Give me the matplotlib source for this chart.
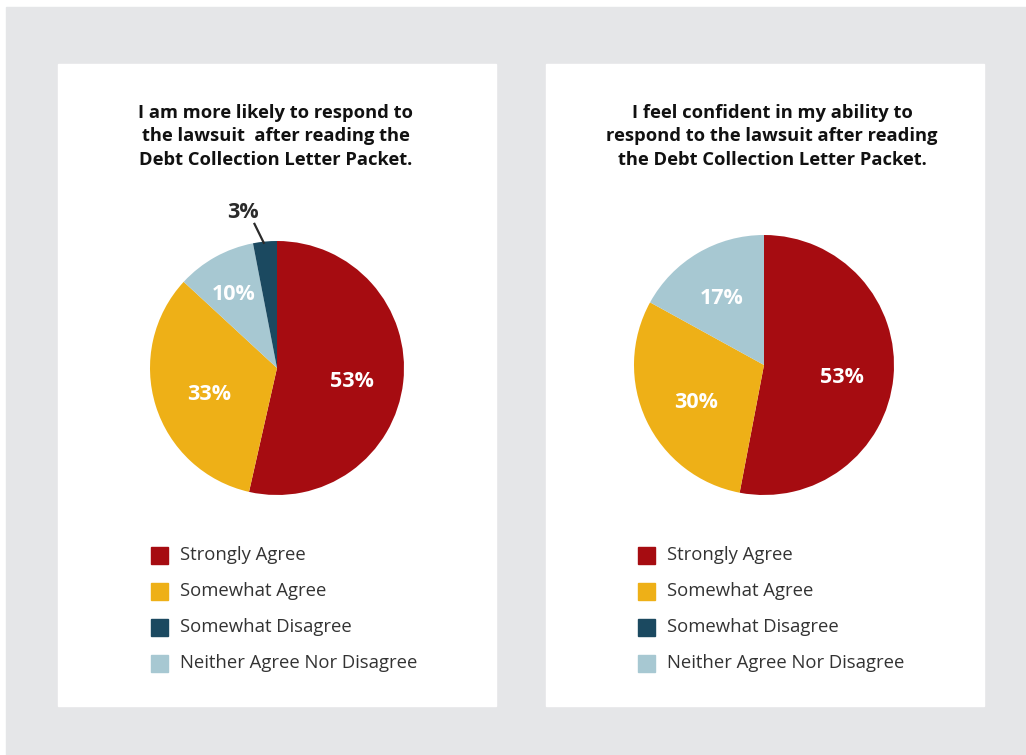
import numpy as np
import matplotlib.pyplot as plt
from matplotlib.patches import Rectangle

plt.rcParams['font.family'] = ['Open Sans', 'DejaVu Sans']

categories = ['Strongly Agree', 'Somewhat Agree', 'Somewhat Disagree', 'Neither Agree Nor Disagree']
colors = ['#a60c11', '#eeb017', '#1b4960', '#a7c8d2']

titles = ['I am more likely to respond to\nthe lawsuit  after reading the\nDebt Collection Letter Packet.',
          'I feel confident in my ability to\nrespond to the lawsuit after reading\nthe Debt Collection Letter Packet.']
# pie order clockwise from top: strongly agree, somewhat agree, neither, somewhat disagree
likely = [53, 33, 10, 3]
confident = [53, 30, 17, 0]
order = [0, 1, 3, 2]

W, H = 1026, 755
fig = plt.figure(figsize=(W / 100, H / 100), dpi=100)
fig.patch.set_facecolor('white')

def px_rect(x0, y0, x1, y1, color):
    fig.patches.append(Rectangle((x0 / W, 1 - y1 / H), (x1 - x0) / W, (y1 - y0) / H,
                                 transform=fig.transFigure, color=color, zorder=-2))

px_rect(6, 7, W, H, '#e5e6e8')
px_rect(58, 64, 496, 706, 'white')
px_rect(546, 64, 984, 706, 'white')

panels = [
    dict(vals=likely, cx=277, cy=368, r=127, tx=276, title=titles[0],
         dist=[0.59, 0.56, 0.71, None]),
    dict(vals=confident, cx=764, cy=365, r=130, tx=772, title=titles[1],
         dist=[0.6, 0.58, 0.64, None]),
]

for p in panels:
    cx, cy, r = p['cx'], p['cy'], p['r']
    ax = fig.add_axes([(cx - r) / W, 1 - (cy + r) / H, 2 * r / W, 2 * r / H])
    ax.set_aspect('equal')
    vals = p['vals']
    wedges, _ = ax.pie(vals, colors=[colors[i] for i in order], startangle=90,
                       counterclock=False, radius=1, wedgeprops=dict(linewidth=0))
    for w, v, d in zip(wedges, vals, p['dist']):
        if v == 0:
            continue
        mid = np.deg2rad((w.theta1 + w.theta2) / 2)
        if d is None:
            # small slice: label outside with a leader line
            ax.plot([0.99 * np.cos(mid) - 0.01, 1.13 * np.cos(mid) - 0.07],
                    [0.99 * np.sin(mid), 1.14 * np.sin(mid)], color='#2b2b2b', lw=1.6,
                    clip_on=False)
            ax.text(1.27 * np.cos(mid) - 0.15, 1.23 * np.sin(mid), f'{v}%', ha='center', va='center',
                    fontsize=15.5, fontweight='bold', color='#2b2b2b')
        else:
            ax.text(d * np.cos(mid), d * np.sin(mid) - 0.04, f'{v}%', ha='center', va='center',
                    fontsize=15.5, fontweight='bold', color='white')
    ax.set_xlim(-1, 1)
    ax.set_ylim(-1, 1)
    ax.axis('off')

    fig.text(p['tx'] / W, 1 - 104 / H, p['title'], ha='center', va='top', fontsize=13.2,
             fontweight='bold', color='#111111', linespacing=1.38)

    for k, name in enumerate(categories):
        y = 555 + 36 * k
        fig.patches.append(Rectangle(((cx - 126) / W, 1 - (y + 8.5) / H), 17 / W, 17 / H,
                                     transform=fig.transFigure, color=colors[k], zorder=1))
        fig.text((cx - 97) / W, 1 - y / H, name, ha='left', va='center', fontsize=13.3,
                 color='#333333')

fig.savefig('out.png', dpi=100)
